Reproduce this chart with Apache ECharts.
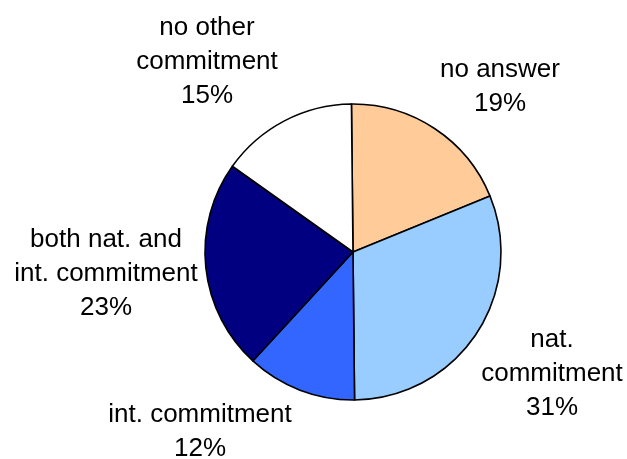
<!DOCTYPE html>
<html>
<head>
<meta charset="utf-8">
<script src="https://cdn.jsdelivr.net/npm/echarts@6/dist/echarts.min.js"></script>
<style>
  html, body { margin: 0; padding: 0; background: #fff; }
  #chart { width: 627px; height: 459px; }
</style>
</head>
<body>
<div id="chart"></div>
<script>
// Slice categories (clockwise from 12 o'clock) and their shares in percent
const categories = [
  'no answer',
  'nat.\ncommitment',
  'int. commitment',
  'both nat. and\nint. commitment',
  'no other\ncommitment'
];
const shares = [19, 31, 12, 23, 15];
const sliceColors = ['#FFCC99', '#99CCFF', '#3366FF', '#000080', '#FFFFFF'];

// Where each slice's label block is centred
const labelAnchors = [
  [500, 87],
  [552, 374],
  [200, 432],
  [106, 274],
  [207, 62]
];

const chart = echarts.init(document.getElementById('chart'));
chart.setOption({
  animation: false,
  backgroundColor: '#ffffff',
  series: [{
    type: 'pie',
    center: [353, 252],
    radius: 148,
    startAngle: 90.6,
    clockwise: true,
    avoidLabelOverlap: false,
    data: categories.map((name, i) => ({
      name: name,
      value: shares[i],
      itemStyle: { color: sliceColors[i] }
    })),
    itemStyle: { borderColor: '#000000', borderWidth: 1.6 },
    label: {
      show: true,
      position: 'outside',
      formatter: '{b}\n{c}%',
      fontFamily: '"Liberation Sans", Arial, sans-serif',
      fontSize: 26,
      lineHeight: 34,
      color: '#000000',
      align: 'center'
    },
    labelLine: { show: false },
    labelLayout: function (params) {
      const p = labelAnchors[params.dataIndex];
      return { x: p[0], y: p[1], align: 'center', verticalAlign: 'middle' };
    },
    emphasis: { disabled: true }
  }]
});
</script>
</body>
</html>
